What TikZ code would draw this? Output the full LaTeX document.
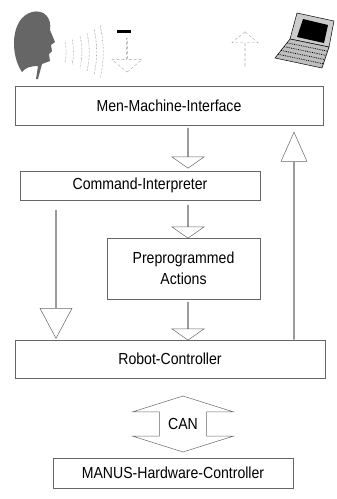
\documentclass[tikz,border=0pt]{standalone}
\usepackage{fontspec}
\setmainfont{Liberation Sans}[FakeStretch=0.88]
\usetikzlibrary{shapes.arrows,calc}
\tikzset{
  box/.style={draw=black!60, line width=0.5pt, inner sep=0pt},
  hollow/.style={draw=black!60, line width=0.5pt, single arrow, inner sep=0pt,
    single arrow head extend=#1},
  faint/.style={draw=black!35, line width=0.4pt, densely dashed, single arrow,
    inner sep=0pt, single arrow head extend=#1},
}

\begin{document}
\begin{tikzpicture}[x=1pt, y=-1pt, font=\fontsize{16}{18}\selectfont]
    \useasboundingbox (0,0) rectangle (337,499);
    % head, speech and notebook
    \fill[black!60] (22,72) .. controls (10,55) and (10,18) .. (32,12)
        .. controls (44,9) and (52,18) .. (50,30) -- (55,42) -- (51,45)
        -- (52,51) -- (49,54) -- (50,61) -- (42,64) -- (38,79) -- (36,79)
        -- (38,66) .. controls (30,66) and (25,68) .. cycle;
    \foreach \x/\h [count=\i] in {65/10,72/13,80/16,87/19,94/23,100/27}
        \draw[black!70, line width=0.4pt, densely dotted] (\x,52-\h) to[bend left=12] (\x,52+\h);
    \fill (117,30) rectangle (131,33);
    \node[faint=8pt, minimum width=30, minimum height=34, shape border rotate=270,
        single arrow tip angle=100] (sp) at (127,55) {};
    \node[faint=5pt, minimum width=26, minimum height=35, shape border rotate=90,
        single arrow tip angle=100] (nb) at (245,49.5) {};
    \filldraw[fill=black!20, line width=0.5pt] (297,13) -- (334,21) -- (329,47) -- (290,39) -- cycle;
    \fill (303,19) -- (328,25) -- (324,43) -- (297,37) -- cycle;
    \filldraw[fill=black!25, line width=0.5pt] (290,39) -- (329,47) -- (322,68) -- (275,58) -- cycle;
    \foreach \t in {0.2,0.4,0.6,0.8}
        \draw[densely dotted, line width=0.8pt] ($(290,39)!\t!(275,58)$) -- ($(329,47)!\t!(322,68)$);

    \node[box, minimum width=308, minimum height=39] (mmi) at (169,105.5) {Men-Machine-Interface};
    \node[box, minimum width=240, minimum height=29] (cmd) at (140,185.5) {Command-Interpreter};
    \node[box, minimum width=153, minimum height=61, align=center] (pre) at (183.5,268.5)
        {Preprogrammed\\[3pt]Actions};
    \node[box, minimum width=310, minimum height=38] (rob) at (170,359) {Robot-Controller};
    \node[box, minimum width=240, minimum height=30] (hw) at (173,473) {MANUS-Hardware-Controller};

    \node[hollow=10pt, minimum width=32, minimum height=40, shape border rotate=270,
        single arrow tip angle=110] (a0) at (188,148) {};
    \node[hollow=10pt, minimum width=32, minimum height=33, shape border rotate=270,
        single arrow tip angle=110] (a1) at (188,221.5) {};
    \node[hollow=10pt, minimum width=32, minimum height=38, shape border rotate=270,
        single arrow tip angle=110] (a2) at (188,321) {};
    \node[hollow=10pt, minimum width=32, minimum height=128, shape border rotate=270,
        single arrow tip angle=56] (a3) at (56,274) {};
    \node[hollow=4.5pt, minimum width=26, minimum height=207, shape border rotate=90,
        single arrow tip angle=48] (a4) at (294,236.5) {};
    \node[draw=black!60, line width=0.5pt, double arrow, inner sep=0pt,
        double arrow head extend=17pt, minimum width=100, minimum height=56,
        shape border rotate=90, double arrow tip angle=145] (can) at (183,424) {CAN};
\end{tikzpicture}
\end{document}
